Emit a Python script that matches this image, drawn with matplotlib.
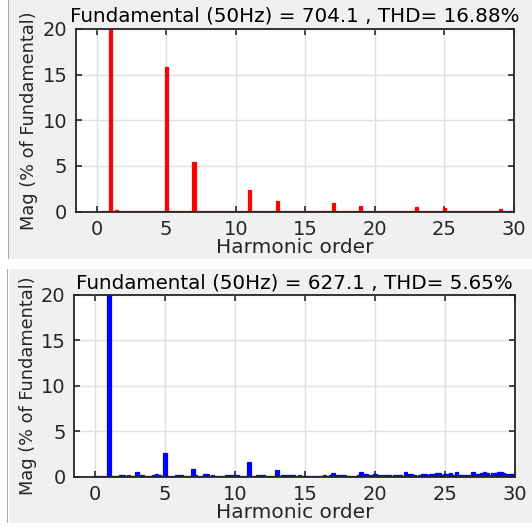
import numpy as np
import matplotlib
matplotlib.use('Agg')
import matplotlib.pyplot as plt
import matplotlib.patches as mpatches

W, H = 532, 527

# harmonic orders at 0.2 resolution (0 .. 30)
orders = np.round(np.arange(0, 30.01, 0.2), 1)

# top spectrum: one row per integer harmonic (offsets .0 .2 .4 .6 .8)
mag_top = [
    0.00, 0.00, 0.05, 0.05, 0.05,   # 0
    100.0, 0.05, 0.15, 0.05, 0.05,  # 1
    0.05, 0.05, 0.05, 0.05, 0.05,   # 2
    0.05, 0.05, 0.05, 0.05, 0.05,   # 3
    0.05, 0.05, 0.05, 0.05, 0.05,   # 4
    15.8, 0.05, 0.05, 0.05, 0.05,   # 5
    0.05, 0.05, 0.05, 0.05, 0.05,   # 6
    5.45, 0.05, 0.05, 0.05, 0.05,   # 7
    0.05, 0.05, 0.05, 0.05, 0.05,   # 8
    0.05, 0.05, 0.05, 0.05, 0.05,   # 9
    0.05, 0.05, 0.05, 0.05, 0.05,   # 10
    2.33, 0.05, 0.05, 0.05, 0.05,   # 11
    0.05, 0.05, 0.05, 0.05, 0.05,   # 12
    1.16, 0.05, 0.05, 0.05, 0.05,   # 13
    0.05, 0.05, 0.05, 0.05, 0.05,   # 14
    0.05, 0.05, 0.05, 0.05, 0.05,   # 15
    0.05, 0.05, 0.05, 0.05, 0.05,   # 16
    0.98, 0.05, 0.05, 0.05, 0.05,   # 17
    0.05, 0.05, 0.05, 0.05, 0.05,   # 18
    0.62, 0.05, 0.05, 0.05, 0.05,   # 19
    0.05, 0.05, 0.05, 0.05, 0.05,   # 20
    0.05, 0.05, 0.05, 0.05, 0.05,   # 21
    0.05, 0.05, 0.05, 0.05, 0.05,   # 22
    0.55, 0.05, 0.05, 0.05, 0.05,   # 23
    0.05, 0.05, 0.05, 0.05, 0.05,   # 24
    0.44, 0.05, 0.05, 0.05, 0.05,   # 25
    0.05, 0.05, 0.05, 0.05, 0.05,   # 26
    0.05, 0.05, 0.05, 0.05, 0.05,   # 27
    0.05, 0.05, 0.05, 0.05, 0.05,   # 28
    0.33, 0.05, 0.05, 0.05, 0.05,   # 29
    0.05,                           # 30
]

mag_bot = [
    0.10, 0.10, 0.10, 0.10, 0.10,   # 0
    100.0, 0.05, 0.05, 0.10, 0.15,  # 1
    0.15, 0.10, 0.15, 0.05, 0.05,   # 2
    0.48, 0.20, 0.15, 0.10, 0.10,   # 3
    0.10, 0.15, 0.25, 0.20, 0.10,   # 4
    2.60, 0.05, 0.10, 0.10, 0.18,   # 5
    0.18, 0.18, 0.10, 0.05, 0.05,   # 6
    0.80, 0.20, 0.10, 0.10, 0.25,   # 7
    0.25, 0.10, 0.18, 0.05, 0.05,   # 8
    0.05, 0.10, 0.18, 0.18, 0.18,   # 9
    0.15, 0.15, 0.05, 0.05, 0.05,   # 10
    1.65, 0.05, 0.10, 0.20, 0.20,   # 11
    0.20, 0.10, 0.05, 0.05, 0.10,   # 12
    0.77, 0.10, 0.15, 0.15, 0.15,   # 13
    0.15, 0.15, 0.12, 0.15, 0.12,   # 14
    0.12, 0.12, 0.10, 0.12, 0.12,   # 15
    0.10, 0.12, 0.15, 0.12, 0.15,   # 16
    0.37, 0.18, 0.18, 0.18, 0.15,   # 17
    0.12, 0.12, 0.12, 0.12, 0.15,   # 18
    0.48, 0.26, 0.26, 0.15, 0.20,   # 19
    0.33, 0.20, 0.20, 0.20, 0.20,   # 20
    0.20, 0.12, 0.15, 0.15, 0.15,   # 21
    0.12, 0.48, 0.30, 0.30, 0.15,   # 22
    0.12, 0.15, 0.26, 0.26, 0.15,   # 23
    0.30, 0.30, 0.37, 0.37, 0.20,   # 24
    0.33, 0.33, 0.37, 0.20, 0.52,   # 25
    0.22, 0.22, 0.22, 0.22, 0.20,   # 26
    0.48, 0.30, 0.30, 0.44, 0.52,   # 27
    0.44, 0.20, 0.44, 0.44, 0.55,   # 28
    0.55, 0.37, 0.30, 0.30, 0.30,   # 29
    0.30,                           # 30
]

titles = ['Fundamental (50Hz) = 704.1 , THD= 16.88%',
          'Fundamental (50Hz) = 627.1 , THD= 5.65%']
colors = ['#ff0000', '#0000ff']

plt.rcParams['font.family'] = ['DejaVu Sans']

fig = plt.figure(figsize=(W / 100, H / 100), dpi=100, facecolor='white')


def _px_rect(x0, y0, x1, y1, **kw):
    # rectangle given in pixel coords (origin top-left), kept behind the axes
    r = mpatches.Rectangle((x0 / W, 1 - y1 / H), (x1 - x0) / W, (y1 - y0) / H,
                           transform=fig.transFigure, zorder=-5, **kw)
    fig.patches.append(r)


# gray panel backgrounds like the MATLAB window
_px_rect(9, 0, 532, 259, facecolor='#f0f0f0', edgecolor='none')
_px_rect(8, 0, 9.2, 259, facecolor='#a8a8a8', edgecolor='none')
_px_rect(9, 269, 532, 523, facecolor='#f0f0f0', edgecolor='none')
_px_rect(7, 269, 8.2, 523, facecolor='#a8a8a8', edgecolor='none')

ax_rects = [
    (75.7, 28.8, 514.0, 211.7),
    (74.0, 295.0, 515.0, 476.7),
]

for (x0, y0, x1, y1), mags, title, c in zip(ax_rects, [mag_top, mag_bot], titles, colors):
    ax = fig.add_axes([x0 / W, 1 - y1 / H, (x1 - x0) / W, (y1 - y0) / H])
    ax.set_facecolor('white')
    ax.bar(orders, mags, width=0.22, color=c, edgecolor=c, linewidth=0.9, zorder=3)
    ax.set_xlim(-1.5, 30)
    ax.set_ylim(0, 20)
    ax.set_xticks(range(0, 31, 5))
    ax.set_yticks(range(0, 21, 5))
    ax.grid(True, color='#e0e0e0', linewidth=1.0, zorder=0)
    ax.set_axisbelow(True)
    ax.tick_params(direction='in', length=4, width=1.2, top=True, right=True,
                   labelsize=14, pad=6, colors='#262626', labelcolor='#262626')
    for sp in ax.spines.values():
        sp.set_color('#262626')
        sp.set_linewidth(1.3)
        sp.set_zorder(5)
    ax.set_title(title, fontsize=14.3, pad=5, color='black')
    ax.set_xlabel('Harmonic order', fontsize=14.5, labelpad=-1, color='#262626')
    ax.set_ylabel('Mag (% of Fundamental)', fontsize=12.8, labelpad=3, color='#262626')

fig.savefig('out.png', dpi=100, facecolor='white')
